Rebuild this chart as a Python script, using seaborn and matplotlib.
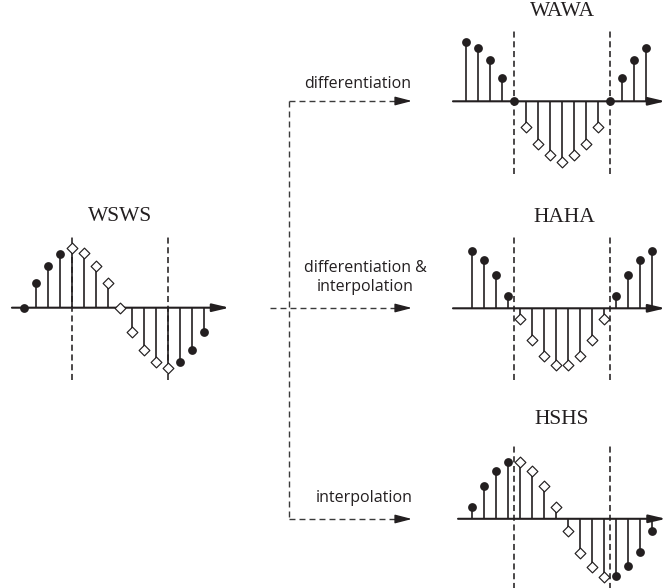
import matplotlib
matplotlib.use("Agg")
import matplotlib.pyplot as plt
import numpy as np
import pandas as pd
import seaborn as sns

sns.set_theme(style="white")
plt.rcParams['font.family'] = ['Open Sans', 'DejaVu Sans']

INK = '#231f20'
GREY = '#3a3a3a'

# --- data: sample positions, values and marker kind for each extension ---
whole_index = [0, 1, 2, 3, 4, 5, 6, 7, 8, 9, 10, 11, 12, 13, 14, 15]
half_index = [0.5, 1.5, 2.5, 3.5, 4.5, 5.5, 6.5, 7.5,
              8.5, 9.5, 10.5, 11.5, 12.5, 13.5, 14.5, 15.5]

wsws_values = [0.00, 0.41, 0.70, 0.90, 1.00, 0.91, 0.70, 0.41,
               0.00, -0.41, -0.70, -0.91, -1.00, -0.91, -0.70, -0.41]
wsws_kind = ['filled'] * 4 + ['open'] * 9 + ['filled'] * 3

wawa_values = [0.99, 0.89, 0.68, 0.39, 0.00, -0.43, -0.72, -0.90,
               -1.02, -0.90, -0.72, -0.43, 0.00, 0.39, 0.68, 0.89]
wawa_kind = ['filled'] * 5 + ['open'] * 7 + ['filled'] * 4

haha_values = [0.96, 0.81, 0.56, 0.21, -0.18, -0.53, -0.80, -0.95,
               -0.95, -0.80, -0.53, -0.18, 0.21, 0.56, 0.81, 0.96]
haha_kind = ['filled'] * 4 + ['open'] * 8 + ['filled'] * 4

hshs_values = [0.19, 0.54, 0.79, 0.94, 0.94, 0.79, 0.54, 0.19,
               -0.21, -0.57, -0.81, -0.97, -0.95, -0.79, -0.56, -0.21]
hshs_kind = ['filled'] * 4 + ['open'] * 8 + ['filled'] * 4

symmetry_points = [4, 12]
panel_titles = ['WSWS', 'WAWA', 'HAHA', 'HSHS']
operation_labels = ['differentiation', 'differentiation &\ninterpolation', 'interpolation']

# --- layout (pixels) ---
W, H = 666, 588
DX, DY = 12.0, 60.0   # pixels per sample / per unit amplitude

fig = plt.figure(figsize=(W / 100, H / 100), dpi=100)
fig.patch.set_facecolor('white')

# overlay in pixel coordinates for connectors and labels
ov = fig.add_axes([0, 0, 1, 1])
ov.set_xlim(0, W)
ov.set_ylim(H, 0)
ov.set_axis_off()

axis_head = dict(arrowstyle='-|>,head_length=0.85,head_width=0.2',
                 color=INK, lw=1.5, shrinkA=0, shrinkB=0)


def panel_axes(left, top, width, height, x0, y0):
    ax = fig.add_axes([left / W, 1 - (top + height) / H, width / W, height / H])
    ax.set_axis_off()
    lims = ((left - x0) / DX, (left + width - x0) / DX,
            (y0 - (top + height)) / DY, (y0 - top) / DY)
    return ax, lims


def draw_panel(ax, lims, x, y, kind, axis_span, bound_span):
    df = pd.DataFrame({'x': x, 'y': y, 'kind': kind})
    ax.vlines(symmetry_points, bound_span[0], bound_span[1], color=INK,
              lw=1.15, linestyles=(0, (3.8, 2.3)), zorder=1)
    stems = df[df['y'] != 0]
    ax.vlines(stems['x'], 0, stems['y'], color=INK, lw=1.2, zorder=2)
    ax.annotate('', xy=(axis_span[1], 0), xytext=(axis_span[0], 0),
                arrowprops=axis_head, annotation_clip=False, zorder=3)
    sns.scatterplot(data=df[df['kind'] == 'filled'], x='x', y='y', marker='o',
                    s=40, color=INK, edgecolor=INK, linewidth=0, zorder=4, ax=ax)
    sns.scatterplot(data=df[df['kind'] == 'open'], x='x', y='y', marker='D',
                    s=30, facecolor='white', edgecolor=INK, linewidth=0.85,
                    zorder=4, ax=ax)
    ax.set_xlim(lims[0], lims[1])
    ax.set_ylim(lims[2], lims[3])
    ax.set_axis_off()


ax, lims = panel_axes(0, 200, 240, 190, 24.3, 307.7)
draw_panel(ax, lims, whole_index, wsws_values, wsws_kind, (-1.03, 17.1), (-1.20, 1.20))

ax, lims = panel_axes(445, 0, 221, 190, 465.7, 101.3)
draw_panel(ax, lims, whole_index, wawa_values, wawa_kind, (-1.06, 16.65), (-1.21, 1.205))

ax, lims = panel_axes(445, 205, 221, 185, 465.7, 308.3)
draw_panel(ax, lims, half_index, haha_values, haha_kind, (-1.06, 16.65), (-1.195, 1.21))

ax, lims = panel_axes(445, 405, 221, 183, 466.2, 518.8)
draw_panel(ax, lims, half_index, hshs_values, hshs_kind, (-0.68, 16.65), (-1.2, 1.25))

# titles
for label, (tx, ty) in zip(panel_titles, [(120.5, 216.7), (562, 11.5), (564, 217.5), (562, 420)]):
    ov.text(tx, ty, label, ha='center', va='center', fontsize=15.5,
            family=['Liberation Serif', 'DejaVu Serif'], color=INK)

# dashed connectors
dash = dict(color=GREY, lw=1.0, linestyle=(0, (4.3, 2.9)))
head = dict(arrowstyle='-|>,head_length=0.85,head_width=0.22', color=INK, lw=1.0,
            shrinkA=0, shrinkB=0)
ov.plot([288.7, 288.7], [101, 519], **dash)
for xs, yy in [(288.7, 101), (270, 308), (288.7, 519)]:
    ov.plot([xs, 400], [yy, yy], **dash)
    ov.annotate('', xy=(412, yy), xytext=(399, yy), arrowprops=head)

ov.text(357.5, 84.4, operation_labels[0], ha='center', va='center', fontsize=11.5, color=INK)
ov.text(365, 277.5, operation_labels[1], ha='center', va='center', fontsize=11.5,
        color=INK, linespacing=1.25)
ov.text(364.5, 498, operation_labels[2], ha='center', va='center', fontsize=11.5, color=INK)

fig.savefig('out.png', dpi=100, facecolor='white')
